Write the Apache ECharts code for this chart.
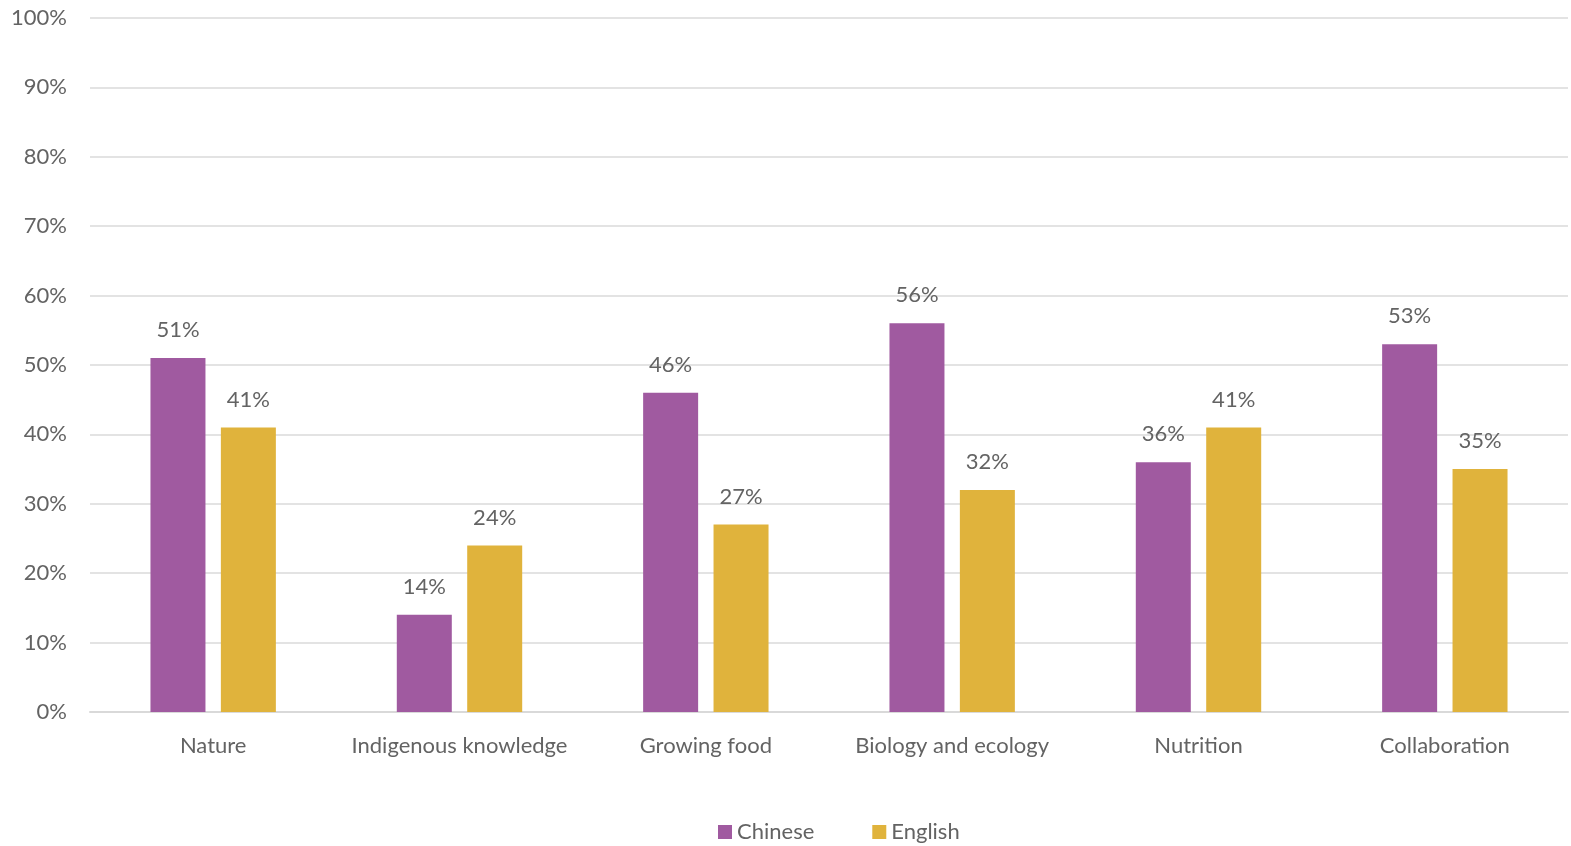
<!DOCTYPE html>
<html>
<head>
<meta charset="utf-8">
<script src="https://cdn.jsdelivr.net/npm/echarts@6/dist/echarts.min.js"></script>
<style>
  html, body { margin: 0; padding: 0; background: #fff; }
  #chart { width: 1571px; height: 846px; }
</style>
</head>
<body>
<div id="chart"></div>
<script>
// Share of responses per topic, by language group (%)
const categories = ['Nature', 'Indigenous knowledge', 'Growing food', 'Biology and ecology', 'Nutrition', 'Collaboration'];
const chineseValues = [51, 14, 46, 56, 36, 53];
const englishValues = [41, 24, 27, 32, 41, 35];
const seriesNames = ['Chinese', 'English'];

const FONT = 'Lato, "Open Sans", sans-serif';
const TEXT = '#636363';

const chart = echarts.init(document.getElementById('chart'));
chart.setOption({
  animation: false,
  textStyle: { fontFamily: FONT },
  grid: { left: 90, right: 3, top: 18, bottom: 134 },
  legend: {
    data: seriesNames,
    bottom: -2,
    left: 713,
    itemWidth: 14,
    itemHeight: 14,
    itemGap: 58,
    icon: 'rect',
    textStyle: { color: TEXT, fontSize: 22, fontFamily: FONT, padding: [0, 0, 0, 0] }
  },
  xAxis: {
    type: 'category',
    data: categories,
    axisLine: { lineStyle: { color: '#d9d9d9', width: 2 } },
    axisTick: { show: false },
    axisLabel: { color: TEXT, fontSize: 22, fontFamily: FONT, margin: 23, interval: 0 }
  },
  yAxis: {
    type: 'value',
    min: 0,
    max: 100,
    interval: 10,
    axisLine: { show: false },
    axisTick: { show: false },
    splitLine: { lineStyle: { color: '#e3e3e3', width: 2 } },
    axisLabel: { color: TEXT, fontSize: 22, fontFamily: FONT, margin: 23, formatter: '{value}%' }
  },
  series: [
    {
      name: seriesNames[0],
      type: 'bar',
      data: chineseValues,
      barWidth: 55,
      barGap: '28%',
      itemStyle: { color: '#A05AA0' },
      label: { show: true, position: 'top', distance: 17, color: TEXT, fontSize: 22, fontFamily: FONT, formatter: '{c}%' }
    },
    {
      name: seriesNames[1],
      type: 'bar',
      data: englishValues,
      barWidth: 55,
      barGap: '28%',
      itemStyle: { color: '#E0B33C' },
      label: { show: true, position: 'top', distance: 17, color: TEXT, fontSize: 22, fontFamily: FONT, formatter: '{c}%' }
    }
  ]
});
</script>
</body>
</html>
